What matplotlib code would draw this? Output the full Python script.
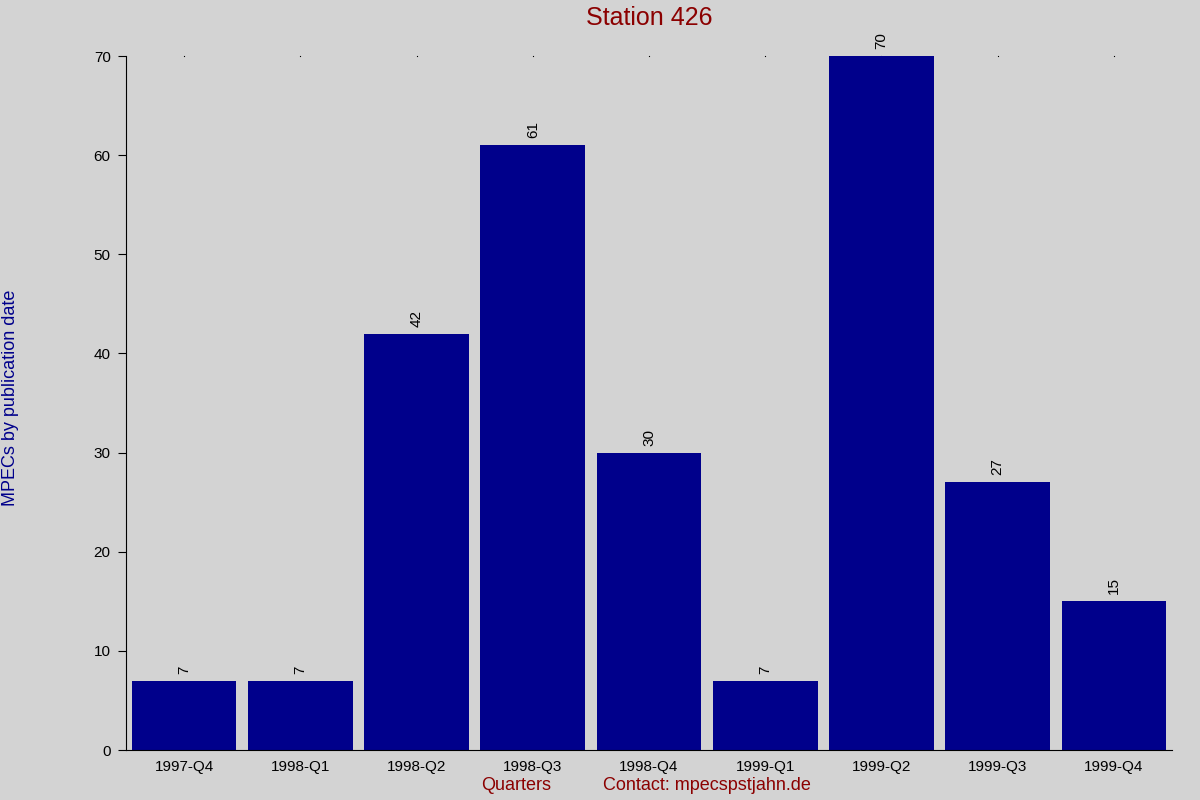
import matplotlib
matplotlib.use("Agg")
import matplotlib.pyplot as plt

categories = ["1997-Q4", "1998-Q1", "1998-Q2", "1998-Q3", "1998-Q4",
              "1999-Q1", "1999-Q2", "1999-Q3", "1999-Q4"]
values = [7, 7, 42, 61, 30, 7, 70, 27, 15]
yticks = [0, 10, 20, 30, 40, 50, 60, 70]

plt.rcParams['font.family'] = ['Liberation Sans', 'DejaVu Sans']

bg = "#d3d3d3"
fig = plt.figure(figsize=(12, 8), dpi=100, facecolor=bg)
ax = fig.add_axes([0.105, 0.0625, 0.8717, 0.8675], facecolor=bg)

x = list(range(len(categories)))
ax.bar(x, values, width=0.9, color="#00008b", zorder=2)
ax.plot(x, [70] * len(x), linestyle="none", marker="s", markersize=0.8,
        markeredgewidth=0, color="black", zorder=1, clip_on=False)

for xi, v in zip(x, values):
    ax.annotate(str(v), (xi, v), xytext=(0, 5), textcoords="offset points",
                rotation=90, ha="center", va="bottom", fontsize=11)

ax.set_xlim(-0.5, len(categories) - 0.5)
ax.set_ylim(0, 70)
ax.set_yticks(yticks)
ax.set_xticks(x)
ax.set_xticklabels(categories, fontsize=11)
ax.tick_params(axis='y', labelsize=11, length=6, pad=5)
ax.tick_params(axis='x', length=0, pad=7)
for s in ["top", "right"]:
    ax.spines[s].set_visible(False)

fig.text(0.541, 0.977, "Station 426", ha="center", va="center", fontsize=18, color="#8b0000")
fig.text(0.009, 0.503, "MPECs by publication date", rotation=90, ha="center", va="center",
         fontsize=13, color="#00008b")
fig.text(0.43, 0.018, "Quarters", ha="center", va="center", fontsize=13, color="#8b0000")
fig.text(0.5025, 0.018, "Contact: mpecspstjahn.de", ha="left", va="center",
         fontsize=13, color="#8b0000")

fig.savefig("out.png", dpi=100, facecolor=bg)
